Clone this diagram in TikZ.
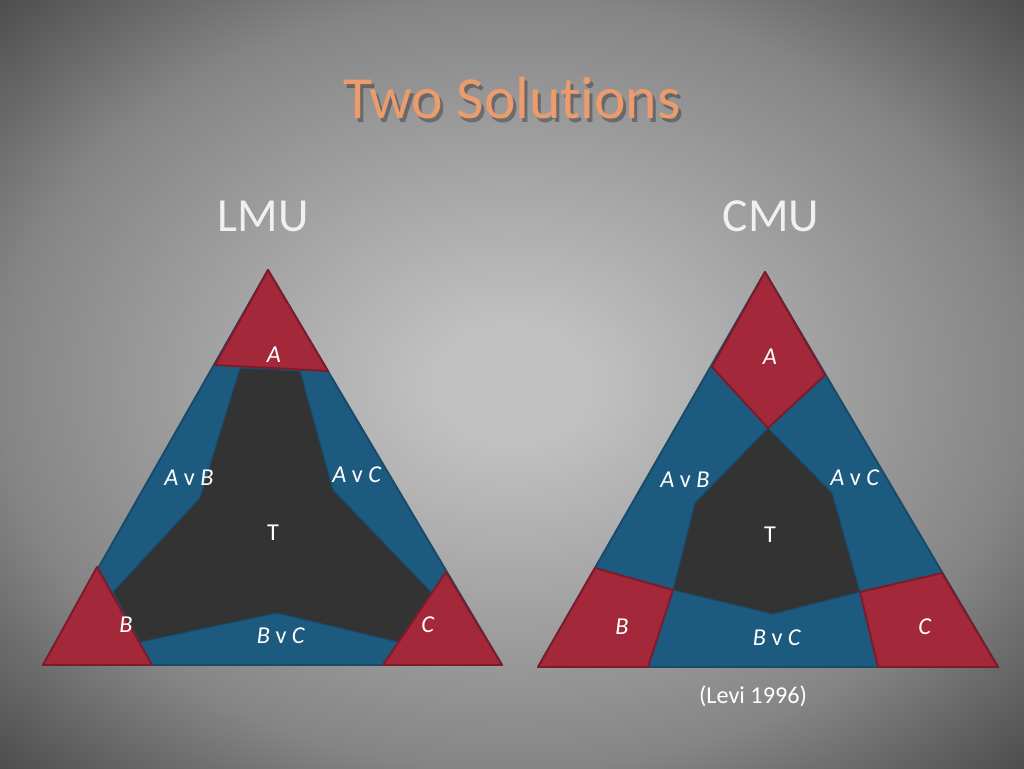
\documentclass[tikz,border=0pt]{standalone}
\usepackage{fontspec}
\setmainfont{Carlito}[Ligatures=NoCommon]
\definecolor{bgin}{HTML}{C0C0C0}
\definecolor{bgmid}{HTML}{858585}
\definecolor{bgedge}{HTML}{4A4A4A}
\definecolor{bgout}{HTML}{282828}
\definecolor{solred}{HTML}{A2283A}
\definecolor{solredline}{HTML}{7E1B2B}
\definecolor{solblue}{HTML}{1D5A7F}
\definecolor{solblueline}{HTML}{184A6A}
\definecolor{tdark}{HTML}{333333}
\definecolor{titleorange}{HTML}{EC9C6C}
\pgfdeclareradialshading{slidebg}{\pgfpoint{0bp}{0bp}}{color(0bp)=(bgin); color(4bp)=(bgin); color(25bp)=(bgmid); color(36bp)=(bgedge); color(50bp)=(bgout)}
\tikzset{
  redpart/.style={fill=solred, draw=solredline, line width=1.1pt, line join=round},
  bluepart/.style={fill=solblue, draw=solblueline, line width=1.1pt, line join=round},
  darkpart/.style={fill=tdark, draw=solblueline, line width=0.6pt, line join=round},
  lbl/.style={text=white, font=\fontsize{13.8}{15}\selectfont},
  head/.style={text=white!94!black, font=\fontsize{27}{30}\selectfont},
}
\begin{document}
\begin{tikzpicture}[x=0.02cm, y=-0.02cm]
\useasboundingbox (0,0) rectangle (1024,768);
\shade[shading=slidebg] (0,0) rectangle (1024,768);
% title
\node[text=black, opacity=0.3, font=\fontsize{34}{38}\selectfont] (tshadow) at (515,102) {Two Solutions};
\node[text=titleorange, font=\fontsize{34}{38}\selectfont] (title) at (512,98) {Two Solutions};
\node[head] (lmu) at (263,216) {LMU};
\node[head] (cmu) at (771,216) {CMU};
% LMU
\draw[bluepart] (268,270) -- (43,665) -- (502,665) -- cycle;
\draw[darkpart] (240,368) -- (300,371) -- (333,490) -- (432,593) -- (398,642) -- (277,613) -- (140,642) -- (113,592) -- (200,498) -- cycle;
\draw[redpart] (268,270) -- (215,365) -- (328,371) -- cycle;
\draw[redpart] (97,567) -- (43,665) -- (152,665) -- cycle;
\draw[redpart] (446,572) -- (383,665) -- (502,665) -- cycle;
\node[lbl] (la) at (274,355) {\textit{A}};
\node[lbl] (lab) at (189,478) {\textit{A} v \textit{B}};
\node[lbl] (lac) at (357,475) {\textit{A} v \textit{C}};
\node[lbl] (lt) at (273,533) {T};
\node[lbl] (lb) at (126,625) {\textit{B}};
\node[lbl] (lbc) at (281,636) {\textit{B} v \textit{C}};
\node[lbl] (lc) at (428,625) {\textit{C}};
% CMU
\draw[bluepart] (765,272) -- (538,667) -- (998,667) -- cycle;
\draw[darkpart] (768,428) -- (832,493) -- (860,592) -- (773,614) -- (673,590) -- (695,503) -- cycle;
\draw[redpart] (765,272) -- (712,367) -- (768,428) -- (825,375) -- cycle;
\draw[redpart] (595,568) -- (673,590) -- (648,667) -- (538,667) -- cycle;
\draw[redpart] (942,573) -- (860,592) -- (878,667) -- (998,667) -- cycle;
\node[lbl] (ca) at (770,357) {\textit{A}};
\node[lbl] (cab) at (685,480) {\textit{A} v \textit{B}};
\node[lbl] (cac) at (855,478) {\textit{A} v \textit{C}};
\node[lbl] (ct) at (770,535) {T};
\node[lbl] (cb) at (622,627) {\textit{B}};
\node[lbl] (cbc) at (777,638) {\textit{B} v \textit{C}};
\node[lbl] (cc) at (925,627) {\textit{C}};
\node[lbl] (levi) at (753,696) {(Levi 1996)};
\end{tikzpicture}
\end{document}
